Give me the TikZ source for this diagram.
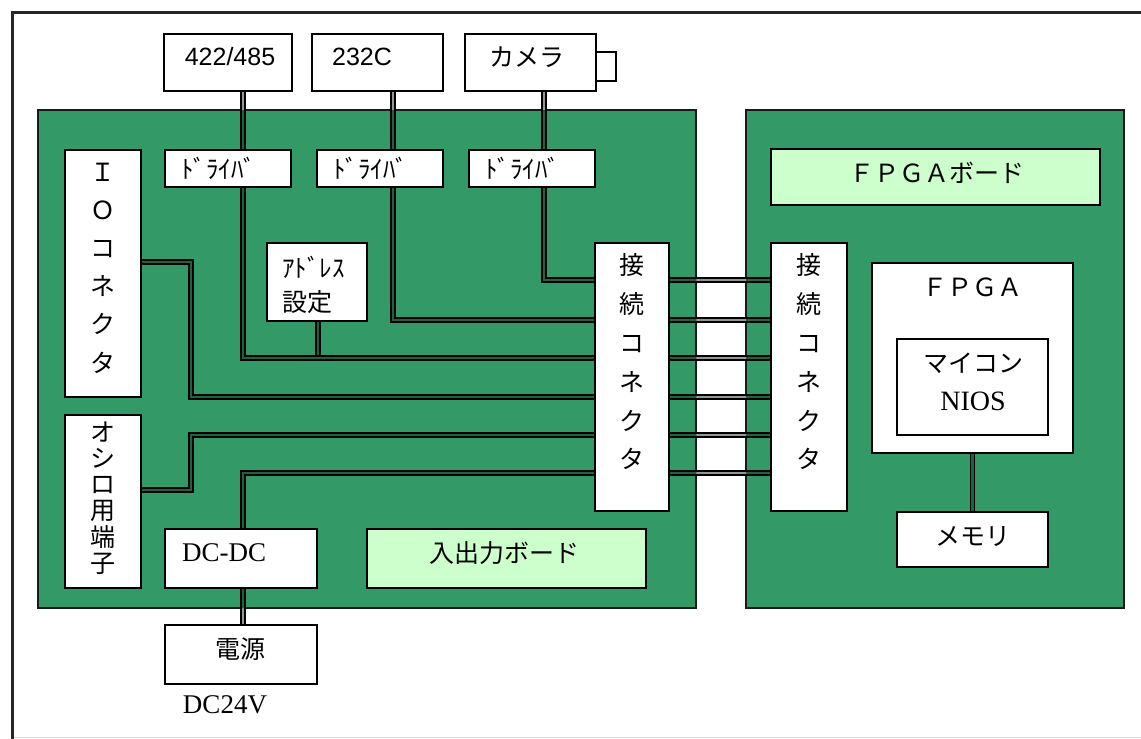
\documentclass[tikz,border=0pt]{standalone}
\usepackage{fontspec}
\newfontfamily\jp{Noto Sans CJK JP}
\newfontfamily\lsans{Liberation Sans}
\newfontfamily\lserif{Liberation Serif}
\definecolor{boardgreen}{RGB}{51,153,102}
\definecolor{lightgreen}{RGB}{204,255,204}
\definecolor{wiregreen}{RGB}{34,96,64}
\definecolor{wiregray}{RGB}{150,150,150}
\tikzset{
  board/.style={draw=black!90, line width=2, fill=boardgreen, inner sep=0, outer sep=0},
  box/.style={draw=black, line width=1.5, fill=white, inner sep=0},
  gbox/.style={box, fill=lightgreen},
  wire/.style={draw=black, line width=1.5, double=#1, double distance=2.6},
  jt/.style={font=\jp\fontsize{25}{30}\selectfont, inner sep=0},
  st/.style={font=\lsans\fontsize{25}{30}\selectfont, inner sep=0},
  rt/.style={font=\lserif\fontsize{27}{30}\selectfont, inner sep=0},
}
\newcommand\drawwires[1]{%
  \draw[wire=#1] (318,0 |- addr.south) -- (318,358);
  \draw[wire=#1] (243,0 |- b422.south) -- (243,0 |- drv1.north);
  \draw[wire=#1] (243,0 |- drv1.south) |- (lc.west |- 0,358);
  \draw[wire=#1] (393,0 |- b232.south) -- (393,0 |- drv2.north);
  \draw[wire=#1] (393,0 |- drv2.south) |- (lc.west |- 0,320);
  \draw[wire=#1] (544,0 |- bcam.south) -- (544,0 |- drv3.north);
  \draw[wire=#1] (544,0 |- drv3.south) |- (lc.west |- 0,280);
  \draw[wire=#1] (io.east |- 0,262) -- (191,262) |- (lc.west |- 0,397);
  \draw[wire=#1] (osc.east |- 0,490) -- (191,490) |- (lc.west |- 0,435);
  \draw[wire=#1] (243,0 |- dcdc.north) |- (lc.west |- 0,473);
  \draw[wire=#1] (243,0 |- dcdc.south) -- (243,0 |- psu.north);
  \foreach \yy in {280,320,358,397,435,473}
    \draw[wire=#1] (lc.east |- 0,\yy) -- (rc.west |- 0,\yy);
  \draw[wire=#1] (fpga.south) -- (fpga.south |- mem.north);
}
\begin{document}
\begin{tikzpicture}[x=1pt,y=-1pt]
\useasboundingbox (0,0) rectangle (1141,739);
\fill[white] (0,0) rectangle (1141,739);
% outer frame
\draw[line width=3, black!85] (1141,12) -- (12,12) -- (12,739);
\draw[line width=1, black!15] (14,737.5) -- (1141,737.5);

% boards
\node[board, minimum width=658, minimum height=498] (boardL) at (367,359) {};
\node[board, minimum width=378, minimum height=498] (boardR) at (935,359) {};

% boxes
\node[box, minimum width=128, minimum height=57] (b422) at (228,62.5) {};
\node[box, minimum width=131, minimum height=57] (b232) at (377.5,62.5) {};
\node[box, minimum width=131, minimum height=57] (bcam) at (530.5,62.5) {};
\node[box, minimum width=20, minimum height=29] (lens) at (606,66.5) {};
\node[box, minimum width=126, minimum height=37] (drv1) at (228,168.5) {};
\node[box, minimum width=126, minimum height=37] (drv2) at (380,168.5) {};
\node[box, minimum width=126, minimum height=37] (drv3) at (532,168.5) {};
\node[box, minimum width=76, minimum height=247] (io) at (103,273.5) {};
\node[box, minimum width=76, minimum height=173] (osc) at (103,501.5) {};
\node[box, minimum width=100, minimum height=78] (addr) at (317,282) {};
\node[box, minimum width=74, minimum height=268] (lc) at (632,377) {};
\node[box, minimum width=76, minimum height=268] (rc) at (809,377) {};
\node[box, minimum width=152, minimum height=59] (dcdc) at (241,558.5) {};
\node[box, minimum width=152, minimum height=59] (psu) at (241,654.5) {};
\node[gbox, minimum width=279, minimum height=59] (iob) at (506.5,558.5) {};
\node[gbox, minimum width=329, minimum height=56] (fpgab) at (935.5,177) {};
\node[box, minimum width=201, minimum height=190] (fpga) at (972.5,358) {};
\node[box, minimum width=151, minimum height=96] (nios) at (972.5,387) {};
\node[box, minimum width=151, minimum height=55] (mem) at (972.5,539.5) {};

% wires: grey core over the white background, green core over the boards
\drawwires{wiregray}
\begin{scope}
  \clip (boardL.north west) rectangle (boardL.south east)
        (boardR.north west) rectangle (boardR.south east);
  \drawwires{wiregreen}
\end{scope}

% texts
\node[st] (t422) at (230,57) {422/485};
\node[st] (t232) at (362,57) {232C};
\node[jt] (tcam) at (527,57) {カメラ};
\node[jt, anchor=west] (tdrv1) at (181,168) {ﾄﾞﾗｲﾊﾞ};
\node[jt, anchor=west] (tdrv2) at (333,168) {ﾄﾞﾗｲﾊﾞ};
\node[jt, anchor=west] (tdrv3) at (485,168) {ﾄﾞﾗｲﾊﾞ};
\node[jt, anchor=west, align=left, font=\jp\fontsize{25}{34}\selectfont] (taddr) at (282,285) {ｱﾄﾞﾚｽ\\設定};
\node[jt, align=center, font=\jp\fontsize{25}{38.2}\selectfont] (tio) at (103,268) {Ｉ\\Ｏ\\コ\\ネ\\ク\\タ};
\node[jt, align=center, font=\jp\fontsize{25}{26.2}\selectfont] (tosc) at (103,498) {オ\\シ\\ロ\\用\\端\\子};
\node[jt, align=center, font=\jp\fontsize{25}{38.8}\selectfont] (tlc) at (632,362) {接\\続\\コ\\ネ\\ク\\タ};
\node[jt, align=center, font=\jp\fontsize{25}{38.8}\selectfont] (trc) at (809,362) {接\\続\\コ\\ネ\\ク\\タ};
\node[rt, anchor=west] (tdcdc) at (182,553) {DC-DC};
\node[jt] (tpsu) at (240,649) {電源};
\node[rt] (tdc24) at (225,705) {DC24V};
\node[jt] (tiob) at (504,553) {入出力ボード};
\node[jt] (tfpgab) at (937,173) {ＦＰＧＡボード};
\node[jt] (tfpga) at (972,287) {ＦＰＧＡ};
\node[jt, align=center, font=\jp\fontsize{25}{38}\selectfont] (tnios) at (973,382) {マイコン\\{\lserif\fontsize{28}{38}\selectfont NIOS}};
\node[jt] (tmem) at (973,537) {メモリ};
\end{tikzpicture}
\end{document}
